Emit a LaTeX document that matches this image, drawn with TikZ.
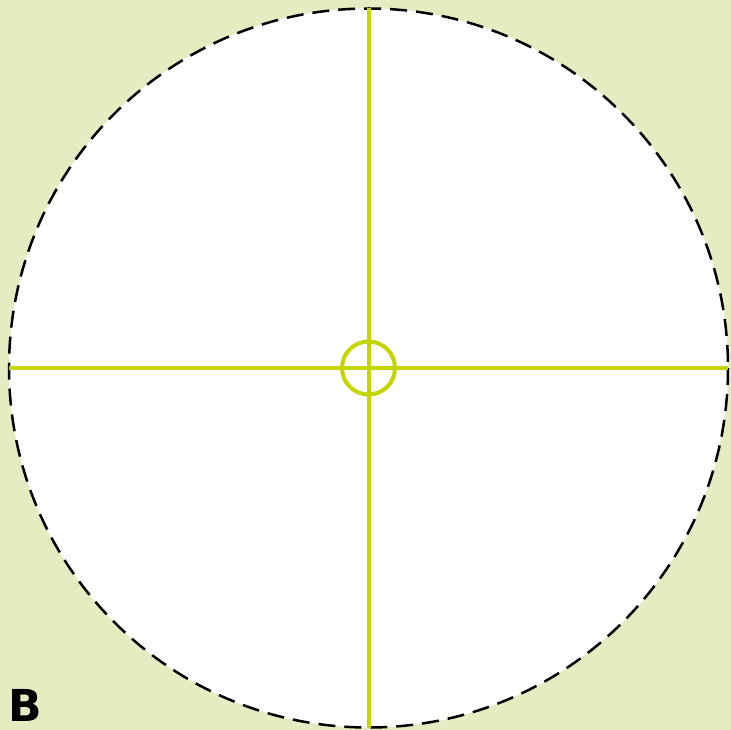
\documentclass[tikz,border=0pt]{standalone}
\usepackage{fontspec}
\setmainfont{DejaVu Sans}
\definecolor{bgc}{HTML}{E6ECC2}
\definecolor{linec}{HTML}{C3D600}
\begin{document}
\begin{tikzpicture}[x=1pt,y=-1pt,
  axis/.style={draw=linec,line width=4pt},
  outer/.style={draw=black,line width=2.5pt,dash pattern=on 17pt off 9pt,fill=white}]
\fill[bgc] (0,0) rectangle (731,730);
\useasboundingbox (0,0) rectangle (731,730);
\coordinate (c) at (368.5,368);
\draw[outer] (c) circle[radius=359.5];
\coordinate (t) at (368.5,8.5);
\coordinate (b) at (368.5,727.5);
\coordinate (l) at (9,368);
\coordinate (r) at (728,368);
\draw[axis] (t) -- (b);
\draw[axis] (l) -- (r);
\draw[axis] (c) circle[radius=26.5];
\node[anchor=base west,inner sep=0pt,text depth=0pt,font=\bfseries\fontsize{44}{44}\selectfont] (lab) at (8,721) {B};
\end{tikzpicture}
\end{document}
